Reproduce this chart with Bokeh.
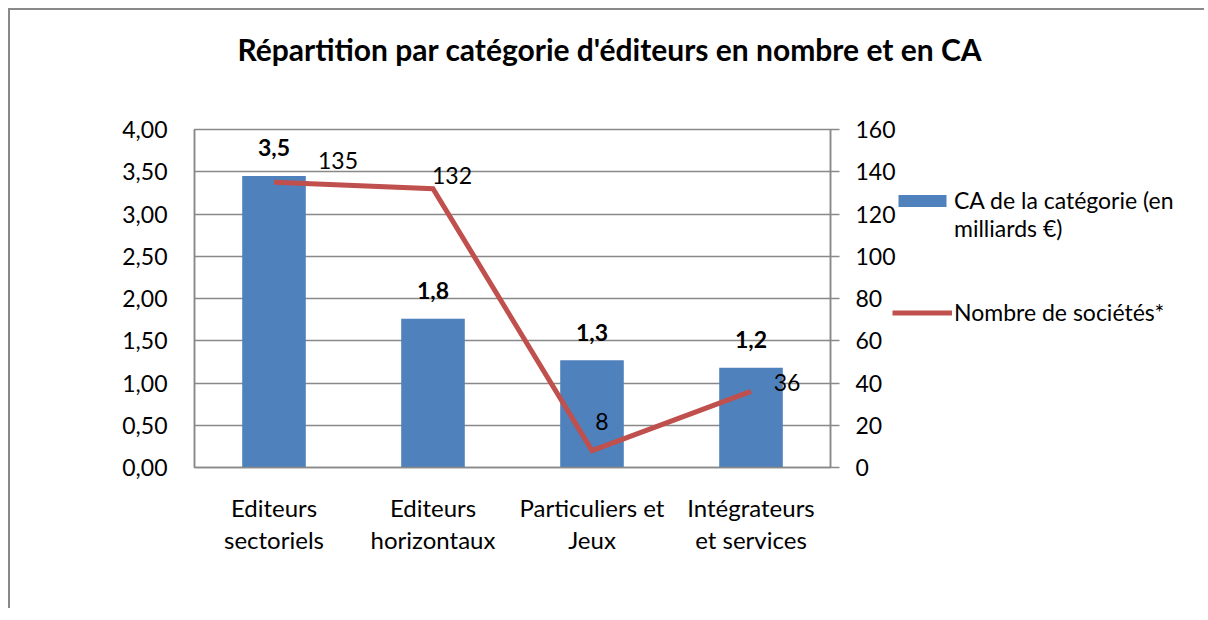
from bokeh.plotting import figure
from bokeh.models import (FactorRange, Range1d, LinearAxis, FixedTicker, ColumnDataSource,
                          LabelSet, Label, Legend, LegendItem)
from bokeh.layouts import column, row
from bokeh.core.properties import value
from bokeh.embed import file_html
from bokeh.resources import INLINE

# ---------------- data ----------------
categories = ["Editeurs\nsectoriels", "Editeurs\nhorizontaux", "Particuliers et\nJeux", "Intégrateurs\net services"]
ca_values = [3.45, 1.76, 1.27, 1.18]          # CA (milliards €)
nb_societes = [135, 132, 8, 36]               # Nombre de sociétés
left_ticks = [0, 0.5, 1.0, 1.5, 2.0, 2.5, 3.0, 3.5, 4.0]
left_tick_labels = ["0,00", "0,50", "1,00", "1,50", "2,00", "2,50", "3,00", "3,50", "4,00"]
right_ticks = [0, 20, 40, 60, 80, 100, 120, 140, 160]
title_text = "Répartition par catégorie d'éditeurs  en nombre et en CA"
legend_bar_line1 = "CA de la catégorie (en"
legend_bar_line2 = "milliards €)"
legend_line_label = "Nombre de sociétés*"

# ---------------- layout ----------------
FONT = "Lato"
GRAY = "#898989"
BLUE = "#4F81BD"
RED = "#C0504D"
FW, FH = 639, 338
BL, BR, BT, BB = 184, 65, 14, 141
W1, H1 = BL + FW + BR, BT + FH + BB       # main chart
W2 = 312                                  # legend strip
TITLE_H = 105
OVERLAP = 6


def fr(v):
    return f"{v:.1f}".replace(".", ",")


src = ColumnDataSource(dict(
    cat=categories,
    ca=ca_values,
    nb=nb_societes,
    ca_lab=[fr(v) for v in ca_values],
    nb_lab=[str(v) for v in nb_societes],
    dx=[64, 19, 10, 36],
    dy=[22, 13, 29, 9],
))

# ---------- title strip ----------
tf = figure(width=W1 + W2 - OVERLAP, height=TITLE_H, x_range=Range1d(0, W1 + W2 - OVERLAP),
            y_range=Range1d(0, TITLE_H), x_axis_type=None, y_axis_type=None,
            output_backend="svg", toolbar_location=None, min_border=0)
tf.outline_line_color = None
tf.grid.visible = False
tf.add_layout(Label(x=603, y=TITLE_H - 38, text=title_text, text_align="center",
                    text_baseline="middle", text_font=FONT, text_font_size="30px",
                    text_font_style="bold", text_color="black"))

# ---------- main chart ----------
p = figure(width=W1, height=H1, x_range=FactorRange(factors=categories, range_padding=0),
           y_range=Range1d(0, 4), output_backend="svg", toolbar_location=None,
           min_border_left=BL, min_border_right=BR, min_border_top=BT, min_border_bottom=BB)
p.extra_y_ranges = {"right": Range1d(0, 160)}
p.outline_line_color = GRAY
p.outline_line_width = 1.5

p.vbar(x="cat", top="ca", width=0.4, source=src, fill_color=BLUE, line_color=None)
p.line(x="cat", y="nb", source=src, y_range_name="right", line_color=RED,
       line_width=5, line_join="miter")

p.xgrid.visible = False
p.ygrid.grid_line_color = GRAY
p.ygrid.grid_line_width = 1.5
p.ygrid.ticker = FixedTicker(ticks=left_ticks)

xa = p.xaxis[0]
xa.axis_line_color = GRAY
xa.axis_line_width = 1.5
xa.major_tick_line_color = None
xa.major_tick_out = 0
xa.major_tick_in = 0
xa.major_label_text_font = FONT
xa.major_label_text_font_size = "24px"
xa.major_label_text_color = "black"
xa.major_label_standoff = 25
xa.major_label_text_line_height = 1.12

ya = p.yaxis[0]
ya.ticker = FixedTicker(ticks=left_ticks)
ya.major_label_overrides = {t: l for t, l in zip(left_ticks, left_tick_labels)}
ya.axis_line_color = GRAY
ya.axis_line_width = 1.5
ya.major_tick_line_color = None
ya.major_tick_out = 0
ya.major_tick_in = 0
ya.minor_tick_line_color = None
ya.major_label_text_font = FONT
ya.major_label_text_font_size = "23px"
ya.major_label_text_color = "black"
ya.major_label_standoff = 27

ra = LinearAxis(y_range_name="right", ticker=FixedTicker(ticks=right_ticks))
ra.axis_line_color = GRAY
ra.axis_line_width = 1.5
ra.major_tick_line_color = GRAY
ra.major_tick_line_width = 1.5
ra.major_tick_out = 9
ra.major_tick_in = 0
ra.minor_tick_line_color = None
ra.major_label_text_font = FONT
ra.major_label_text_font_size = "23px"
ra.major_label_text_color = "black"
ra.major_label_standoff = 16
p.add_layout(ra, "right")

p.add_layout(LabelSet(x="cat", y="ca", text="ca_lab", source=src, y_offset=28,
                      text_align="center", text_baseline="middle",
                      text_font=value(FONT), text_font_size=value("23px"),
                      text_font_style="bold", text_color="black"))
p.add_layout(LabelSet(x="cat", y="nb", text="nb_lab", source=src, y_range_name="right",
                      x_offset="dx", y_offset="dy",
                      text_align="center", text_baseline="middle",
                      text_font=value(FONT), text_font_size=value("23px"), text_color="black"))

# ---------- legend strip ----------
lf = figure(width=W2, height=H1, x_range=Range1d(0, 1), y_range=Range1d(0, 1),
            x_axis_type=None, y_axis_type=None, output_backend="svg",
            toolbar_location=None, min_border=0)
lf.outline_line_color = None
lf.grid.visible = False
lf.background_fill_alpha = 0
lf.border_fill_alpha = 0
lf.styles = {"margin-left": f"-{OVERLAP}px"}
# legend swatches: placeholders kept outside the strip's visible range
lbar = lf.vbar(x=[-5], top=[-5], width=0.4, fill_color=BLUE, line_color=None)
lline = lf.line(x=[-6, -5], y=[-6, -5], line_color=RED, line_width=5)
lnone = lf.scatter(x=[-5], y=[-5], size=0, fill_alpha=0, line_alpha=0)
ITEM_H = 28
N_ITEMS = 5
legend_top = 187 - (10 + TITLE_H)          # page px -> strip px
legend = Legend(items=[
    LegendItem(label=legend_bar_line1, renderers=[lbar]),
    LegendItem(label=legend_bar_line2, renderers=[lnone]),
    LegendItem(label=" ", renderers=[lnone]),
    LegendItem(label=" ", renderers=[lnone]),
    LegendItem(label=legend_line_label, renderers=[lline]),
], location=(0, H1 - legend_top - 2 * N_ITEMS * ITEM_H), glyph_width=60, glyph_height=15,
    label_standoff=2, label_height=ITEM_H, spacing=0, padding=0, margin=0,
    border_line_color=None, background_fill_alpha=0,
    label_text_font=FONT, label_text_font_size="23px", label_text_color="black")
lf.add_layout(legend)

layout = column(tf, row(p, lf))
layout.styles = {"border-left": f"2px solid {GRAY}", "border-top": f"2px solid {GRAY}",
                 "margin-left": "8px", "margin-top": "8px"}

open("out.html", "w").write(file_html(layout, INLINE))
